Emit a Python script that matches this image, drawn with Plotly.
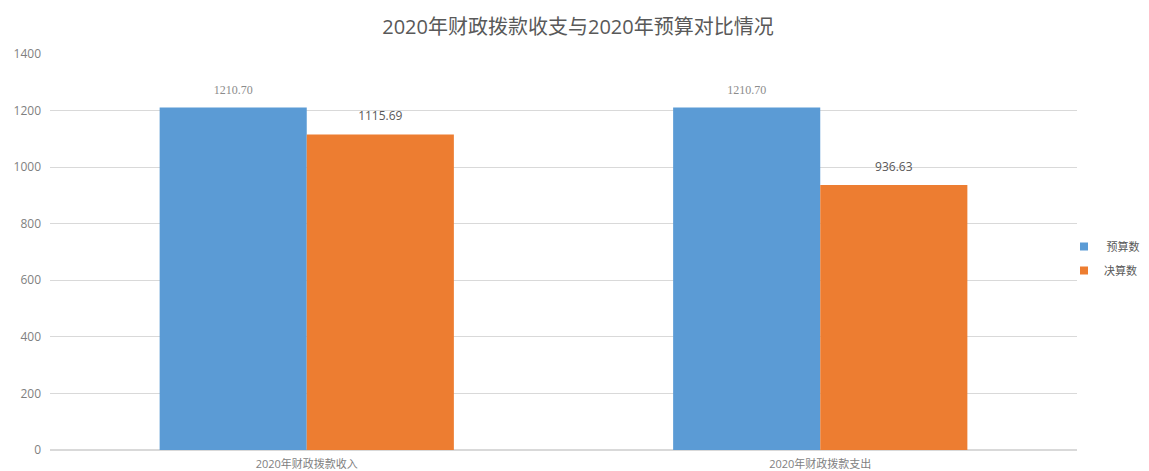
import plotly.graph_objects as go

categories = ["2020年财政拨款收入", "2020年财政拨款支出"]
budget = [1210.70, 1210.70]
final = [1115.69, 936.63]
series_names = [" 预算数", "决算数"]
title_text = "2020年财政拨款收支与2020年预算对比情况"

FONT = "Open Sans, Noto Sans CJK SC, sans-serif"
GRAY = "#595959"
TICK = "#7f7f7f"
BLUE, ORANGE = "#5b9bd5", "#ed7d31"

OFF = 8  # page body margin
W, H = 1149 - OFF, 471 - OFF
PL, PR, PT, PB = 50 - OFF, 1077 - OFF, 54 - OFF, 450 - OFF  # plot area in pixels

fig = go.Figure()
for name, vals, col, grp in [(series_names[0], budget, BLUE, "a"),
                             (series_names[1], final, ORANGE, "b")]:
    fig.add_trace(go.Bar(
        x=categories, y=vals, name=name, showlegend=False,
        marker=dict(color=col, line=dict(width=0)),
        offsetgroup=grp, alignmentgroup="g",
    ))

fig.add_trace(go.Scatter(
    x=categories, y=budget, mode="markers+text", showlegend=False, hoverinfo="skip",
    marker=dict(size=16, opacity=0), offsetgroup="a", alignmentgroup="g",
    texttemplate="%{y:.2f}", textposition="top center",
    textfont=dict(color="#8c8c8c", size=12, family="Liberation Serif, serif"),
    cliponaxis=False,
))
fig.add_trace(go.Scatter(
    x=categories, y=final, mode="markers+text", showlegend=False, hoverinfo="skip",
    marker=dict(size=16, opacity=0), offsetgroup="b", alignmentgroup="g",
    texttemplate="%{y:.2f}", textposition="top center",
    textfont=dict(color=GRAY, size=12, family=FONT),
    cliponaxis=False,
))

# legend entries
for name, col, grp in [(series_names[0], BLUE, "l1"), (series_names[1], ORANGE, "l2")]:
    fig.add_trace(go.Scatter(
        x=[None], y=[None], mode="markers", name=name, legendgroup=grp,
        marker=dict(symbol="square", size=8, color=col),
    ))

fig.update_layout(
    width=W, height=H,
    margin=dict(l=0, r=0, t=0, b=0, autoexpand=False),
    paper_bgcolor="white", plot_bgcolor="white",
    font=dict(family=FONT, color=GRAY, size=12),
    title=dict(text=title_text, x=(578 - OFF) / W, xanchor="center", xref="paper",
               y=1 - (27 - OFF) / H, yanchor="middle", yref="paper",
               font=dict(size=20, color=GRAY, family=FONT)),
    barmode="group", bargap=0.427, bargroupgap=0,
    scattermode="group", scattergap=0.427,
    showlegend=True,
    legend=dict(x=(1064 - OFF) / W, xanchor="left", y=1 - (258.5 - OFF) / H, yanchor="middle",
                font=dict(size=11, color=GRAY, family="Noto Sans CJK SC"),
                itemwidth=30, tracegroupgap=5, bgcolor="rgba(0,0,0,0)"),
)
fig.update_xaxes(domain=[PL / W, PR / W], showline=False, ticks="", automargin=False,
                 tickfont=dict(size=11, color=TICK, family=FONT), ticklabelstandoff=6)
fig.update_yaxes(domain=[1 - PB / H, 1 - PT / H], range=[0, 1400], dtick=200,
                 showgrid=True, gridcolor="#d9d9d9", gridwidth=1, zeroline=True,
                 zerolinecolor="#d9d9d9", showline=False, ticks="", automargin=False,
                 tickfont=dict(size=12, color=TICK, family=FONT), ticklabelstandoff=8)

fig.write_html("out.html")
